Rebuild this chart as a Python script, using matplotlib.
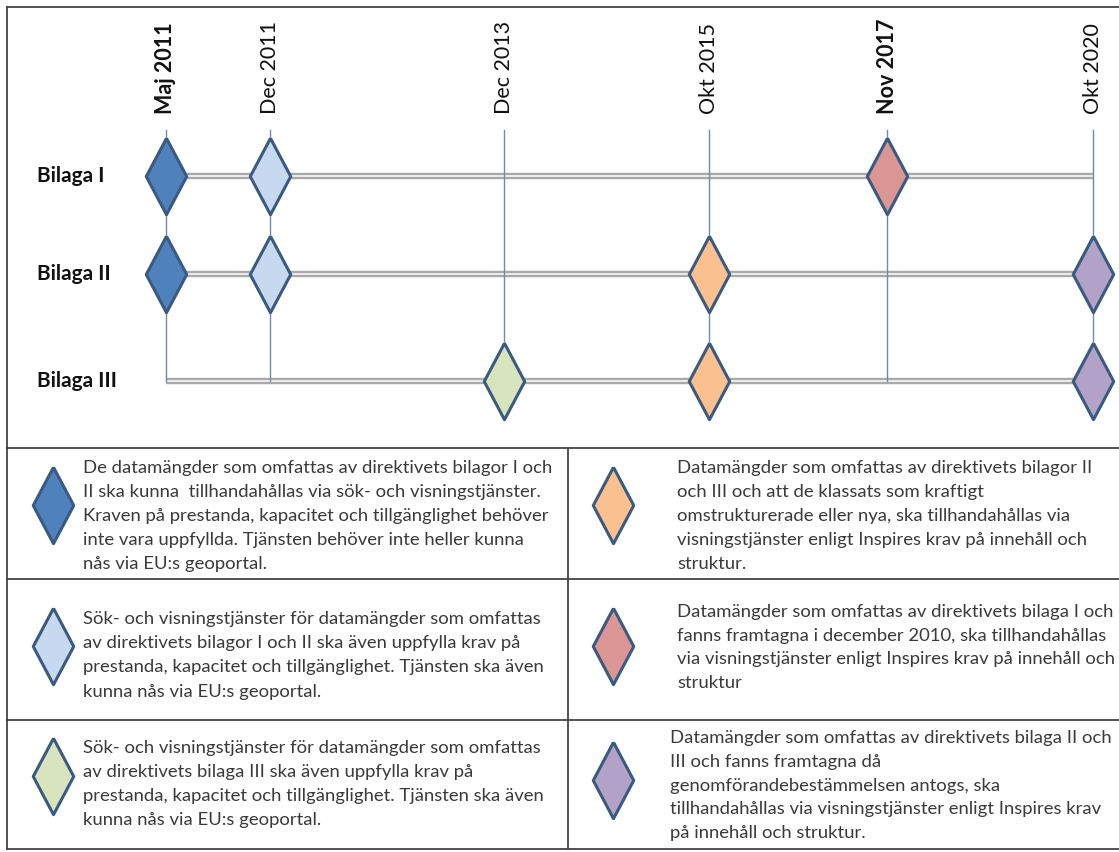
import matplotlib.pyplot as plt

plt.rcParams['font.family'] = ['Lato', 'DejaVu Sans']

# --- Data ---
dates = ["Maj 2011", "Dec 2011", "Dec 2013", "Okt 2015", "Nov 2017", "Okt 2020"]
date_bold = [True, False, False, False, True, False]
rows = ["Bilaga I", "Bilaga II", "Bilaga III"]

# milstolpar: rad-index och datum-index
ms_row = [0, 0, 0, 1, 1, 1, 1, 2, 2, 2]
ms_date = [0, 1, 4, 0, 1, 3, 5, 2, 3, 5]

# en färg per datum
colors = ["#4f81bd", "#c6d9f1", "#d7e4bd", "#fac090", "#d99694", "#b3a2c7"]

legend_texts = [
    "De datamängder som omfattas av direktivets bilagor I och\n"
    "II ska kunna  tillhandahållas via sök- och visningstjänster.\n"
    "Kraven på prestanda, kapacitet och tillgänglighet behöver\n"
    "inte vara uppfyllda. Tjänsten behöver inte heller kunna\n"
    "nås via EU:s geoportal.",
    "Sök- och visningstjänster för datamängder som omfattas\n"
    "av direktivets bilagor I och II ska även uppfylla krav på\n"
    "prestanda, kapacitet och tillgänglighet. Tjänsten ska även\n"
    "kunna nås via EU:s geoportal.",
    "Sök- och visningstjänster för datamängder som omfattas\n"
    "av direktivets bilaga III ska även uppfylla krav på\n"
    "prestanda, kapacitet och tillgänglighet. Tjänsten ska även\n"
    "kunna nås via EU:s geoportal.",
    "Datamängder som omfattas av direktivets bilagor II\n"
    "och III och att de klassats som kraftigt\n"
    "omstrukturerade eller nya, ska tillhandahållas via\n"
    "visningstjänster enligt Inspires krav på innehåll och\n"
    "struktur.",
    "Datamängder som omfattas av direktivets bilaga I och\n"
    "fanns framtagna i december 2010, ska tillhandahållas\n"
    "via visningstjänster enligt Inspires krav på innehåll och\n"
    "struktur",
    "Datamängder som omfattas av direktivets bilaga II och\n"
    "III och fanns framtagna då\n"
    "genomförandebestämmelsen antogs, ska\n"
    "tillhandahållas via visningstjänster enligt Inspires krav\n"
    "på innehåll och struktur.",
]

# --- Layout (pixelkoordinater) ---
date_x = [166, 270, 504, 709, 887, 1093]
row_y = [176, 274, 381]
line_top = 130

diamond = [(0, 1), (0.53, 0), (0, -1), (-0.53, 0), (0, 1)]
edge = "#3b5a80"

fig = plt.figure(figsize=(11.19, 8.52), dpi=100)
ax = fig.add_axes([0, 0, 1, 1])
ax.set_xlim(0, 1119)
ax.set_ylim(852, 0)
ax.axis("off")

# vertikala linjer
for x in date_x:
    ax.plot([x, x], [line_top, row_y[2]], color="#6d8bab", lw=1.0, zorder=3)

# horisontella dubbellinjer
for y in row_y:
    ax.plot([date_x[0], date_x[-1]], [y, y], color="#a9a9a9", lw=4.6,
            solid_capstyle="butt", zorder=2)
    ax.plot([date_x[0], date_x[-1]], [y, y], color="#ededed", lw=1.4,
            solid_capstyle="butt", zorder=2)

# milstolpar
for r, d in zip(ms_row, ms_date):
    ax.plot(date_x[d], row_y[r], marker=diamond, ms=55, mfc=colors[d],
            mec=edge, mew=2.2, zorder=4)

# datumetiketter
for x, lab, b in zip(date_x, dates, date_bold):
    ax.text(x, 114, lab, rotation=90, ha="center", va="bottom", fontsize=15.5,
            fontweight="bold" if b else "normal", color="#111111")

# radetiketter
for y, lab in zip(row_y, rows):
    ax.text(37, y, lab, ha="left", va="center", fontsize=15,
            fontweight="bold", color="#111111")

# ram runt tidslinjen
frame = dict(color="#444444", lw=1.3)
ax.plot([7, 1119], [7, 7], **frame)
ax.plot([7, 7], [7, 849], **frame)

# tabell
table_rows = [448, 579, 720, 849]
for y in table_rows:
    ax.plot([7, 1119], [y, y], **frame)
ax.plot([568, 568], [448, 849], **frame)

diamond_x = [53, 613]
diamond_y = [505, 646, 776, 505, 646, 780]
text_x = [83, 83, 83, 677, 677, 670]
first_line = [468, 619, 748, 468, 612, 738]
line_step = [23.9, 24.2, 24.0, 23.9, 23.7, 23.8]
for i, txt in enumerate(legend_texts):
    col = i // 3
    ax.plot(diamond_x[col], diamond_y[i], marker=diamond, ms=55,
            mfc=colors[i], mec=edge, mew=2.2)
    for k, line in enumerate(txt.split("\n")):
        ax.text(text_x[i], first_line[i] + k * line_step[i], line,
                ha="left", va="center", fontsize=13.3, color="#3a3a3a")

fig.savefig("out.png", dpi=100)
